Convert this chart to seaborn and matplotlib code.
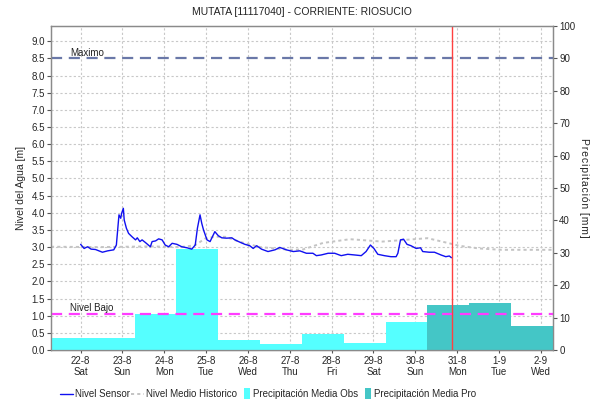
import numpy as np
import pandas as pd
import matplotlib
matplotlib.use("Agg")
import matplotlib.pyplot as plt
import matplotlib.dates as mdates
import matplotlib.transforms as mtransforms
from matplotlib.lines import Line2D
from matplotlib.patches import Patch, Rectangle
from matplotlib.legend_handler import HandlerPatch
from matplotlib.ticker import FixedLocator, FormatStrFormatter
import seaborn as sns

# ---------------- data ----------------
TITLE = "MUTATA [11117040] - CORRIENTE: RIOSUCIO"
START = "2020-08-22 00:00"
X_FROM = "2020-08-21 07:00"
X_TO = "2020-09-02 07:00"
NOW = "2020-08-30 21:00"
NIVEL_MAXIMO = 8.5
NIVEL_BAJO = 1.05
PRECIP_MAX = 100
PRECIP_AT_MAXIMO = 90
DAY_START_HOUR = 7

sensor_hours = [0, 2, 4, 6, 8.5, 12.5, 15.5, 19, 20.5, 22, 23, 23.5, 24.5, 25, 26.25,
                27.5, 29.5, 31.5, 32.5, 34, 35.25, 37, 40, 41, 43, 44.75, 46.75, 48.5,
                50.5, 52.5, 55.25, 58, 61, 63.75, 65.75, 67, 68.5, 69.5, 70.5, 72.5,
                74.25, 76.25, 77, 79, 81, 83.75, 86.75, 88.5, 91.5, 94.25, 97, 99, 101,
                103.75, 107.5, 111.5, 114.25, 118, 122, 125.75, 129.5, 133.25, 135.25,
                138, 142, 145.75, 149.5, 153.25, 157.25, 161, 163.75, 166.25, 168.25,
                170.5, 174.25, 178, 181, 182, 183.5, 185.25, 187.25, 189.5, 192.5, 195,
                196.25, 200, 203, 206.75, 209.5, 211.5, 212.75]
sensor_level = [3.08, 2.96, 3.01, 2.94, 2.93, 2.85, 2.89, 2.92, 3.06, 3.94, 3.84, 3.98,
                4.13, 3.79, 3.55, 3.40, 3.30, 3.21, 3.27, 3.16, 3.21, 3.14, 3.01, 3.16,
                3.18, 3.24, 3.21, 3.06, 3.01, 3.11, 3.08, 3.01, 2.98, 2.94, 3.06, 3.55,
                3.94, 3.69, 3.50, 3.21, 3.16, 3.37, 3.45, 3.33, 3.27, 3.26, 3.27, 3.21,
                3.14, 3.08, 3.04, 2.96, 3.04, 2.94, 2.87, 2.92, 2.99, 2.92, 2.87, 2.89,
                2.82, 2.82, 2.75, 2.77, 2.82, 2.82, 2.75, 2.79, 2.77, 2.75, 2.87, 3.06,
                2.96, 2.79, 2.75, 2.72, 2.72, 2.82, 3.21, 3.23, 3.08, 3.04, 2.96, 2.98,
                2.87, 2.85, 2.85, 2.77, 2.72, 2.74, 2.69]

hist_hours = [-17, 11.5, 40, 57, 65.5, 71.5, 77, 83, 91.5, 103, 120, 127.5, 139, 154.5,
              173, 191.5, 199, 211.5, 217, 228.5, 241.5, 271]
hist_level = [3.01, 3.00, 3.02, 3.00, 3.05, 3.25, 3.30, 3.30, 3.15, 3.00, 2.92, 2.93,
              3.12, 3.23, 3.16, 3.23, 3.26, 3.11, 3.04, 2.96, 2.92, 2.92]

obs_days = ["2020-08-21", "2020-08-22", "2020-08-23", "2020-08-24", "2020-08-25",
            "2020-08-26", "2020-08-27", "2020-08-28", "2020-08-29"]
obs_mm = [3.7, 3.7, 11.0, 31.2, 3.1, 1.85, 4.9, 2.1, 8.6]
pro_days = ["2020-08-30", "2020-08-31", "2020-09-01"]
pro_mm = [13.9, 14.5, 7.5]

# ---------------- style ----------------
sns.set_theme(style="white")
plt.rcParams["font.family"] = ["Liberation Sans", "DejaVu Sans"]
plt.rcParams["axes.unicode_minus"] = False

C_SENSOR = "#1010f0"
C_HIST = "#c4c4c4"
C_OBS = "#55ffff"
C_PRO = "#44c6c6"
C_MAX = "#6a78a8"
C_BAJO = "#ff3cff"
C_NOW = "#ff4040"
C_GRID = "#c8c8c8"
C_SPINE = "#8a8a8a"
FS = 7

start = pd.Timestamp(START)
sensor = pd.DataFrame({"time": start + pd.to_timedelta(sensor_hours, unit="h"),
                       "level": sensor_level})
hist = pd.DataFrame({"time": start + pd.to_timedelta(hist_hours, unit="h"),
                     "level": hist_level})
obs_start = pd.to_datetime(obs_days) + pd.Timedelta(hours=DAY_START_HOUR)
pro_start = pd.to_datetime(pro_days) + pd.Timedelta(hours=DAY_START_HOUR)

fig = plt.figure(figsize=(5.9, 4.04), dpi=100)
ax = fig.add_axes([51 / 590, 1 - 350 / 404, 502 / 590, 324 / 404])
ax2 = ax.twinx()
ax.set_zorder(2)
ax2.set_zorder(1)
ax.patch.set_visible(False)
ax2.patch.set_visible(True)
ax2.patch.set_facecolor("white")

# precipitation bars (bottom layer)
ax2.bar(mdates.date2num(obs_start), obs_mm, width=1.0, align="edge",
        color=C_OBS, edgecolor="none", zorder=3)
ax2.bar(mdates.date2num(pro_start), pro_mm, width=1.0, align="edge",
        color=C_PRO, edgecolor="none", zorder=3)
ax2.set_ylim(0, PRECIP_MAX)
ax2.set_yticks(np.arange(0, PRECIP_MAX + 1, 10))

# level lines
y_top = NIVEL_MAXIMO * PRECIP_MAX / PRECIP_AT_MAXIMO
sns.lineplot(data=hist, x="time", y="level", ax=ax, color=C_HIST, lw=1.4,
             linestyle=(0, (1.6, 1.6)), legend=False)
sns.lineplot(data=sensor, x="time", y="level", ax=ax, color=C_SENSOR, lw=1.0,
             legend=False)

ax.axhline(NIVEL_MAXIMO, color=C_MAX, lw=1.6, dashes=(5, 3))
ax.axhline(NIVEL_BAJO, color=C_BAJO, lw=1.6, dashes=(5, 3))
ax.axvline(mdates.date2num(pd.Timestamp(NOW)), color=C_NOW, lw=1.0)
trans = mtransforms.blended_transform_factory(ax.transAxes, ax.transData)
ax.text(19 / 502, NIVEL_MAXIMO + 0.02, "Maximo", transform=trans, fontsize=FS,
        va="bottom", ha="left", color="#222222")
ax.text(19 / 502, NIVEL_BAJO + 0.02, "Nivel Bajo", transform=trans, fontsize=FS,
        va="bottom", ha="left", color="#222222")

ax.set_ylim(0, y_top)
lv_ticks = np.arange(0, 9.01, 0.5)
ax.set_yticks(lv_ticks)
ax.yaxis.set_major_formatter(FormatStrFormatter("%.1f"))
ax.set_xlim(mdates.date2num(pd.Timestamp(X_FROM)), mdates.date2num(pd.Timestamp(X_TO)))
ax.xaxis.set_major_locator(mdates.DayLocator())
ax.xaxis.set_major_formatter(mdates.DateFormatter("%-d-%-m\n%a"))

# grid drawn on the bottom axes so bars cover it
ax2.xaxis.set_visible(True)
ax2.tick_params(axis="x", labelbottom=False, labeltop=False, length=0)
ax2.grid(axis="x", which="major", color=C_GRID, ls=(0, (2, 2)), lw=0.8)
ax2.yaxis.set_minor_locator(FixedLocator(lv_ticks * PRECIP_MAX / y_top))
ax2.grid(axis="y", which="minor", color=C_GRID, ls=(0, (2, 2)), lw=0.8)
ax2.grid(axis="y", which="major", visible=False)
ax2.tick_params(axis="y", which="minor", length=0)
ax.grid(False)

ax.set_xlabel("")
ax.set_ylabel("Nivel del Agua [m]", fontsize=FS + 0.5, labelpad=4)
ax2.set_ylabel("P\u200ar\u200ae\u200ac\u200ai\u200ap\u200ai\u200at\u200aa\u200ac\u200ai\u200aó\u200an\u200a [\u200am\u200am\u200a]",
               fontsize=FS + 0.5, rotation=270, labelpad=10)
ax.set_title(TITLE, fontsize=FS + 0.5, pad=8, color="#222222")

for a in (ax, ax2):
    for s in a.spines.values():
        s.set_color(C_SPINE)
        s.set_linewidth(0.9)
ax2.spines["bottom"].set_color("#555555")
ax.tick_params(axis="y", labelsize=FS, length=3, width=0.8, color="#555555", pad=1.5,
               left=True)
ax.tick_params(axis="x", labelsize=FS, length=2, width=0.8, color="#555555", pad=2,
               bottom=True)
ax2.tick_params(axis="y", which="major", labelsize=FS, length=3, width=0.8,
                color="#555555", pad=1.5, right=True)

# legend
class NarrowPatch(HandlerPatch):
    def create_artists(self, legend, orig_handle, xdescent, ydescent, width, height,
                       fontsize, trans):
        w = 4.0
        r = Rectangle((-xdescent + width - w - 1, -ydescent - 1.5), w, height + 3,
                      facecolor=orig_handle.get_facecolor(), edgecolor="none",
                      transform=trans)
        return [r]

handles = [Line2D([], [], color=C_SENSOR, lw=1.0),
           Line2D([], [], color=C_HIST, lw=1.4, linestyle=(0, (1.6, 1.6))),
           Patch(facecolor=C_OBS), Patch(facecolor=C_PRO)]
labels = ["Nivel Sensor", "Nivel Medio Historico", "Precipitación Media Obs",
          "Precipitación Media Pro"]
fig.legend(handles, labels, loc="center", bbox_to_anchor=(268 / 590, 1 - 394 / 404),
           ncol=4, frameon=False, fontsize=FS, handlelength=1.4,
           handletextpad=0.2, columnspacing=0.05,
           handler_map={Patch: NarrowPatch()})

fig.savefig("out.png", dpi=100)
